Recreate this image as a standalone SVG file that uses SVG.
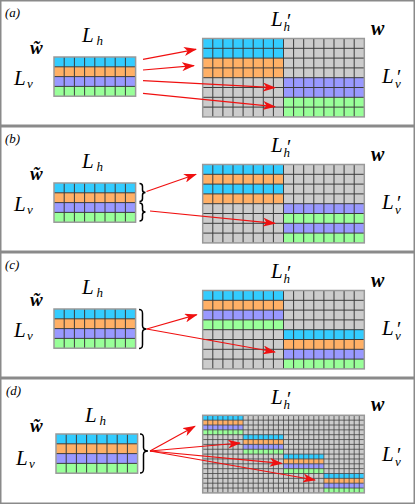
<svg xmlns="http://www.w3.org/2000/svg" xmlns:xlink="http://www.w3.org/1999/xlink" width="416" height="504" viewBox="0 0 416 504">
<style>
.frame{fill:#fff;stroke:#8a8a8a;stroke-width:1.5}
.gl{fill:none;stroke:#3c3c3c;stroke-width:1}
.gld{fill:none;stroke:#444;stroke-width:0.8}
.gb{fill:none;stroke:#999;stroke-width:1.5}
.c{fill:#33ccff}.o{fill:#ffb066}.p{fill:#9999ff}.g{fill:#99ff99}.bg{fill:#cccccc}
.arr{fill:none;stroke:#f01010;stroke-width:1.2;marker-end:url(#ah)}
.brace{fill:none;stroke:#000;stroke-width:1.5}
.m{font-family:"Liberation Serif","DejaVu Serif",serif;font-style:italic;fill:#000}
.lab{font-family:"Liberation Serif","DejaVu Serif",serif;font-style:italic;font-size:13px;fill:#000}
.bw{font-weight:bold}
.L{font-size:21px}
.s{font-size:13px}
.pr{font-size:20px;font-style:normal}
</style>
<defs>
<marker id="ah" markerUnits="userSpaceOnUse" viewBox="0 0 13 9" refX="12" refY="4.5" markerWidth="13" markerHeight="9" orient="auto">
<path d="M0 0L13 4.5L0 9L3.5 4.5Z" fill="#f01010"/>
</marker>
<g id="sg">
<rect class="c" width="81.6" height="9.8"/>
<rect class="o" y="9.8" width="81.6" height="9.8"/>
<rect class="p" y="19.6" width="81.6" height="9.8"/>
<rect class="g" y="29.4" width="81.6" height="9.8"/>
<path class="gl" d="M10.2 0V39.2M20.4 0V39.2M30.6 0V39.2M40.8 0V39.2M51 0V39.2M61.2 0V39.2M71.4 0V39.2M0 9.8H81.6M0 19.6H81.6M0 29.4H81.6"/>
<rect class="gb" width="81.6" height="39.2"/>
</g>
<g id="bgl">
<path class="gl" d="M10.1 0V78.4M20.2 0V78.4M30.3 0V78.4M40.4 0V78.4M50.5 0V78.4M60.6 0V78.4M70.7 0V78.4M80.8 0V78.4M90.9 0V78.4M101 0V78.4M111.1 0V78.4M121.2 0V78.4M131.3 0V78.4M141.4 0V78.4M151.5 0V78.4M0 9.8H161.6M0 19.6H161.6M0 29.4H161.6M0 39.2H161.6M0 49H161.6M0 58.8H161.6M0 68.6H161.6"/>
<rect class="gb" width="161.6" height="78.4"/>
</g>
</defs>
<rect width="416" height="504" fill="#fff"/>

<g id="panel-a">
<rect class="frame" x="0.75" y="0.75" width="413.5" height="124.5"/>
<text class="lab" x="5" y="17">(a)</text>
<text class="m bw" x="30" y="54" font-size="19">w̃</text>
<text class="m"><tspan class="L" x="82" y="42">L</tspan><tspan class="s" x="96.5" y="44.5">h</tspan></text>
<text class="m"><tspan class="L" x="14" y="85">L</tspan><tspan class="s" x="27" y="88">v</tspan></text>
<text class="m"><tspan class="L" x="271" y="26">L</tspan><tspan class="pr" x="287" y="27.5">′</tspan><tspan class="s" x="283.5" y="30.5">h</tspan></text>
<text class="m bw" x="371" y="35" font-size="20">w</text>
<text class="m"><tspan class="L" x="382" y="83">L</tspan><tspan class="pr" x="397" y="83.5">′</tspan><tspan class="s" x="395" y="88">v</tspan></text>
<use xlink:href="#sg" href="#sg" x="54" y="57"/>
<g transform="translate(202.7,38.5)">
<rect class="bg" width="161.6" height="78.4"/>
<rect class="c" width="80.8" height="19.6"/>
<rect class="o" y="19.6" width="80.8" height="19.6"/>
<rect class="p" x="80.8" y="39.2" width="80.8" height="19.6"/>
<rect class="g" x="80.8" y="58.8" width="80.8" height="19.6"/>
<use xlink:href="#bgl" href="#bgl"/>
</g>
</g>

<g id="panel-b">
<rect class="frame" x="0.75" y="126.75" width="413.5" height="124.5"/>
<text class="lab" x="5" y="143">(b)</text>
<text class="m bw" x="30" y="180" font-size="19">w̃</text>
<text class="m"><tspan class="L" x="82" y="168">L</tspan><tspan class="s" x="96.5" y="170.5">h</tspan></text>
<text class="m"><tspan class="L" x="14" y="211">L</tspan><tspan class="s" x="27" y="214">v</tspan></text>
<text class="m"><tspan class="L" x="271" y="152">L</tspan><tspan class="pr" x="287" y="153.5">′</tspan><tspan class="s" x="283.5" y="156.5">h</tspan></text>
<text class="m bw" x="371" y="161" font-size="20">w</text>
<text class="m"><tspan class="L" x="382" y="209">L</tspan><tspan class="pr" x="397" y="209.5">′</tspan><tspan class="s" x="395" y="214">v</tspan></text>
<use xlink:href="#sg" href="#sg" x="54" y="183"/>
<path class="brace" d="M139.5 183.5C142.5 183.5 142.5 185 142.5 186.5V190C142.5 191.7 144 192.5 145.5 192.5C144 192.5 142.5 193.3 142.5 195V198.5C142.5 200 142.5 201.5 139.5 201.5"/>
<path class="brace" d="M139.5 203C142.5 203 142.5 204.5 142.5 206V209.5C142.5 211.2 144 212 145.5 212C144 212 142.5 212.8 142.5 214.5V218C142.5 219.5 142.5 221 139.5 221"/>
<g transform="translate(202.7,164.5)">
<rect class="bg" width="161.6" height="78.4"/>
<rect class="c" width="80.8" height="9.8"/>
<rect class="o" y="9.8" width="80.8" height="9.8"/>
<rect class="c" y="19.6" width="80.8" height="9.8"/>
<rect class="o" y="29.4" width="80.8" height="9.8"/>
<rect class="p" x="80.8" y="39.2" width="80.8" height="9.8"/>
<rect class="g" x="80.8" y="49" width="80.8" height="9.8"/>
<rect class="p" x="80.8" y="58.8" width="80.8" height="9.8"/>
<rect class="g" x="80.8" y="68.6" width="80.8" height="9.8"/>
<use xlink:href="#bgl" href="#bgl"/>
</g>
</g>

<g id="panel-c">
<rect class="frame" x="0.75" y="252.75" width="413.5" height="124.5"/>
<text class="lab" x="5" y="269">(c)</text>
<text class="m bw" x="30" y="306" font-size="19">w̃</text>
<text class="m"><tspan class="L" x="82" y="294">L</tspan><tspan class="s" x="96.5" y="296.5">h</tspan></text>
<text class="m"><tspan class="L" x="14" y="337">L</tspan><tspan class="s" x="27" y="340">v</tspan></text>
<text class="m"><tspan class="L" x="271" y="278">L</tspan><tspan class="pr" x="287" y="279.5">′</tspan><tspan class="s" x="283.5" y="282.5">h</tspan></text>
<text class="m bw" x="371" y="287" font-size="20">w</text>
<text class="m"><tspan class="L" x="382" y="335">L</tspan><tspan class="pr" x="397" y="335.5">′</tspan><tspan class="s" x="395" y="340">v</tspan></text>
<use xlink:href="#sg" href="#sg" x="54" y="309"/>
<path class="brace" d="M139 309.5C142.5 309.5 142.5 311.5 142.5 313.5V325.5C142.5 327.8 144.5 329 146.5 329C144.5 329 142.5 330.2 142.5 332.5V344.5C142.5 346.5 142.5 348.5 139 348.5"/>
<g transform="translate(202.7,290.5)">
<rect class="bg" width="161.6" height="78.4"/>
<rect class="c" width="80.8" height="9.8"/>
<rect class="o" y="9.8" width="80.8" height="9.8"/>
<rect class="p" y="19.6" width="80.8" height="9.8"/>
<rect class="g" y="29.4" width="80.8" height="9.8"/>
<rect class="c" x="80.8" y="39.2" width="80.8" height="9.8"/>
<rect class="o" x="80.8" y="49" width="80.8" height="9.8"/>
<rect class="p" x="80.8" y="58.8" width="80.8" height="9.8"/>
<rect class="g" x="80.8" y="68.6" width="80.8" height="9.8"/>
<use xlink:href="#bgl" href="#bgl"/>
</g>
</g>

<g id="panel-d">
<rect class="frame" x="0.75" y="378.75" width="413.5" height="124.5"/>
<text class="lab" x="6" y="395">(d)</text>
<text class="m bw" x="30" y="432" font-size="19">w̃</text>
<text class="m"><tspan class="L" x="85" y="422">L</tspan><tspan class="s" x="99.5" y="424.5">h</tspan></text>
<text class="m"><tspan class="L" x="16" y="465">L</tspan><tspan class="s" x="29" y="468">v</tspan></text>
<text class="m"><tspan class="L" x="271" y="404">L</tspan><tspan class="pr" x="287" y="405.5">′</tspan><tspan class="s" x="283.5" y="408.5">h</tspan></text>
<text class="m bw" x="371" y="411" font-size="20">w</text>
<text class="m"><tspan class="L" x="382" y="461">L</tspan><tspan class="pr" x="397" y="461.5">′</tspan><tspan class="s" x="395" y="466">v</tspan></text>
<use xlink:href="#sg" href="#sg" x="56" y="434"/>
<path class="brace" d="M140 434C143.5 434 143.5 436 143.5 438V447.5C143.5 449.8 145.5 451 148 451C145.5 451 143.5 452.2 143.5 454.5V469C143.5 471 143.5 473 140 473"/>
<g transform="translate(202.7,415.3)">
<rect class="bg" width="161.6" height="77.6"/>
<rect class="c" width="40.4" height="4.85"/>
<rect class="o" y="4.85" width="40.4" height="4.85"/>
<rect class="p" y="9.7" width="40.4" height="4.85"/>
<rect class="g" y="14.55" width="40.4" height="4.85"/>
<rect class="c" x="40.4" y="19.4" width="40.4" height="4.85"/>
<rect class="o" x="40.4" y="24.25" width="40.4" height="4.85"/>
<rect class="p" x="40.4" y="29.1" width="40.4" height="4.85"/>
<rect class="g" x="40.4" y="33.95" width="40.4" height="4.85"/>
<rect class="c" x="80.8" y="38.8" width="40.4" height="4.85"/>
<rect class="o" x="80.8" y="43.65" width="40.4" height="4.85"/>
<rect class="p" x="80.8" y="48.5" width="40.4" height="4.85"/>
<rect class="g" x="80.8" y="53.35" width="40.4" height="4.85"/>
<rect class="c" x="121.2" y="58.2" width="40.4" height="4.85"/>
<rect class="o" x="121.2" y="63.05" width="40.4" height="4.85"/>
<rect class="p" x="121.2" y="67.9" width="40.4" height="4.85"/>
<rect class="g" x="121.2" y="72.75" width="40.4" height="4.85"/>
<path class="gld" d="M5.05 0V77.6M10.1 0V77.6M15.15 0V77.6M20.2 0V77.6M25.25 0V77.6M30.3 0V77.6M35.35 0V77.6M40.4 0V77.6M45.45 0V77.6M50.5 0V77.6M55.55 0V77.6M60.6 0V77.6M65.65 0V77.6M70.7 0V77.6M75.75 0V77.6M80.8 0V77.6M85.85 0V77.6M90.9 0V77.6M95.95 0V77.6M101 0V77.6M106.05 0V77.6M111.1 0V77.6M116.15 0V77.6M121.2 0V77.6M126.25 0V77.6M131.3 0V77.6M136.35 0V77.6M141.4 0V77.6M146.45 0V77.6M151.5 0V77.6M156.55 0V77.6M0 4.85H161.6M0 9.7H161.6M0 14.55H161.6M0 19.4H161.6M0 24.25H161.6M0 29.1H161.6M0 33.95H161.6M0 38.8H161.6M0 43.65H161.6M0 48.5H161.6M0 53.35H161.6M0 58.2H161.6M0 63.05H161.6M0 67.9H161.6M0 72.75H161.6"/>
<rect class="gb" width="161.6" height="77.6"/>
</g>
</g>

<g id="connectors">
<path class="arr" d="M143 59.3L196 49.3"/>
<path class="arr" d="M143 70L194 65.7"/>
<path class="arr" d="M143 80.7L275 87.7"/>
<path class="arr" d="M143 93.3L275 106.7"/>
<path class="arr" d="M146.5 191.5L196 174.3"/>
<path class="arr" d="M150 211L275 223.3"/>
<path class="arr" d="M146.7 329L196.7 314.7"/>
<path class="arr" d="M146.7 329L275 352"/>
<path class="arr" d="M150 451L195 426.3"/>
<path class="arr" d="M150 451L240 443"/>
<path class="arr" d="M150 451L281.7 463.3"/>
<path class="arr" d="M150 451L315 480"/>
</g>
</svg>
